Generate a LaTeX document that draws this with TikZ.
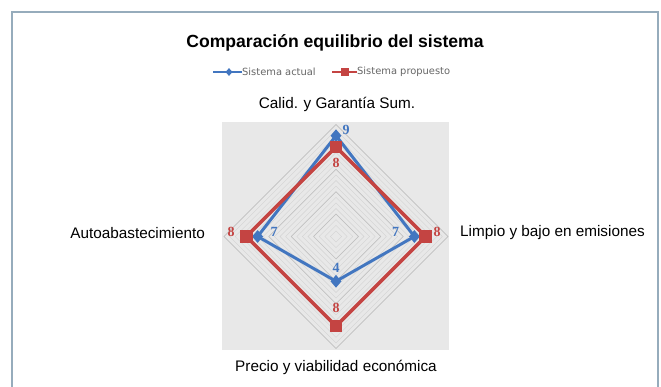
\documentclass[tikz,border=0pt]{standalone}
\usepackage{fontspec}
\setmainfont{Liberation Sans}
\newfontfamily\legfont{DejaVu Sans}
\newfontfamily\valfont{Liberation Serif}
\usetikzlibrary{shapes.geometric,positioning}
\definecolor{actual}{RGB}{66,118,192}
\definecolor{propuesto}{RGB}{196,68,66}
\definecolor{marco}{RGB}{150,172,188}
\definecolor{fondo}{RGB}{232,232,232}

\begin{document}
\begin{tikzpicture}[x=1pt, y=-1pt,
  every node/.style={inner sep=0pt},
  eje/.style={font=\fontsize{15.3}{17}\selectfont},
  rejilla/.style={draw=gray!35, line width=0.4pt},
  lineaA/.style={draw=actual, line width=3pt, line join=round},
  lineaP/.style={draw=propuesto, line width=3.6pt, line join=miter},
  marcaA/.style={diamond, fill=actual, minimum width=11pt, minimum height=13pt},
  marcaP/.style={rectangle, fill=propuesto, minimum size=12.5pt},
  valA/.style={text=actual, font=\valfont\bfseries\fontsize{14}{15}\selectfont},
  valP/.style={text=propuesto, font=\valfont\bfseries\fontsize{14}{15}\selectfont},
  leyenda/.style={text=gray!80!black, font=\legfont\fontsize{9.9}{11}\selectfont, anchor=west}]
  \useasboundingbox (0,0) rectangle (661,387);
  \draw[marco, line width=1.3pt] (12,387) -- (12,12) -- (658,12) -- (658,387);

  \node (titulo) at (335,43) {\bfseries\fontsize{17.6}{19}\selectfont Comparación equilibrio del sistema};
  \coordinate (lA1) at (213,72);
  \coordinate (lA2) at (242,72);
  \coordinate (lP1) at (332,72);
  \coordinate (lP2) at (357,72);
  \draw[lineaA, line width=2.4pt] (lA1) -- (lA2);
  \node[marcaA, minimum width=7pt, minimum height=8pt] at (229,72) {};
  \node[leyenda] (tA) at (242,72) {Sistema actual};
  \draw[lineaP, line width=2.8pt] (lP1) -- (lP2);
  \node[marcaP, minimum size=7.5pt] at (345,72) {};
  \node[leyenda] (tP) at (357,72) {Sistema propuesto};

  \fill[fondo] (222,122) rectangle (449,350);
  \begin{scope}[shift={(336,236.5)}]
    \foreach \r in {0.5,1,...,10}
      \draw[rejilla] (0,-\r*11.2) -- (\r*11.2,0) -- (0,\r*11.2) -- (-\r*11.2,0) -- cycle;
    \foreach \r in {2,4,...,10}
      \draw[draw=gray!50, line width=0.5pt] (0,-\r*11.2) -- (\r*11.2,0) -- (0,\r*11.2) -- (-\r*11.2,0) -- cycle;
  \end{scope}

  \node[eje] (calidad) at (337,104) {Calid. y Garantía Sum.};
  \node[eje, anchor=west] (limpio) at (460,233) {Limpio y bajo en emisiones};
  \node[eje] (precio) at (336,367) {Precio y viabilidad económica};
  \node[eje, anchor=east] (auto) at (205,233) {Autoabastecimiento};

  \coordinate (a1) at (336,135.7);
  \coordinate (a2) at (414.4,236.5);
  \coordinate (a3) at (336,281.3);
  \coordinate (a4) at (257.6,236.5);
  \coordinate (p1) at (336,146.9);
  \coordinate (p2) at (425.6,236.5);
  \coordinate (p3) at (336,326.1);
  \coordinate (p4) at (246.4,236.5);

  \draw[lineaA] (a1) -- (a2) -- (a3) -- (a4) -- cycle;
  \foreach \n in {a1,a2,a3,a4}
    \node[marcaA] at (\n) {};
  \draw[lineaP] (p1) -- (p2) -- (p3) -- (p4) -- cycle;
  \foreach \n in {p1,p2,p3,p4}
    \node[marcaP] at (\n) {};

  \node[valA] (v1) at (346,130) {9};
  \node[valP] (v2) at (336,163) {8};
  \node[valA] (v3) at (395.5,232) {7};
  \node[valP] (v4) at (437,232) {8};
  \node[valA] (v5) at (336,268) {4};
  \node[valP] (v6) at (336,308) {8};
  \node[valA] (v7) at (274,232) {7};
  \node[valP] (v8) at (231,232) {8};
\end{tikzpicture}
\end{document}
